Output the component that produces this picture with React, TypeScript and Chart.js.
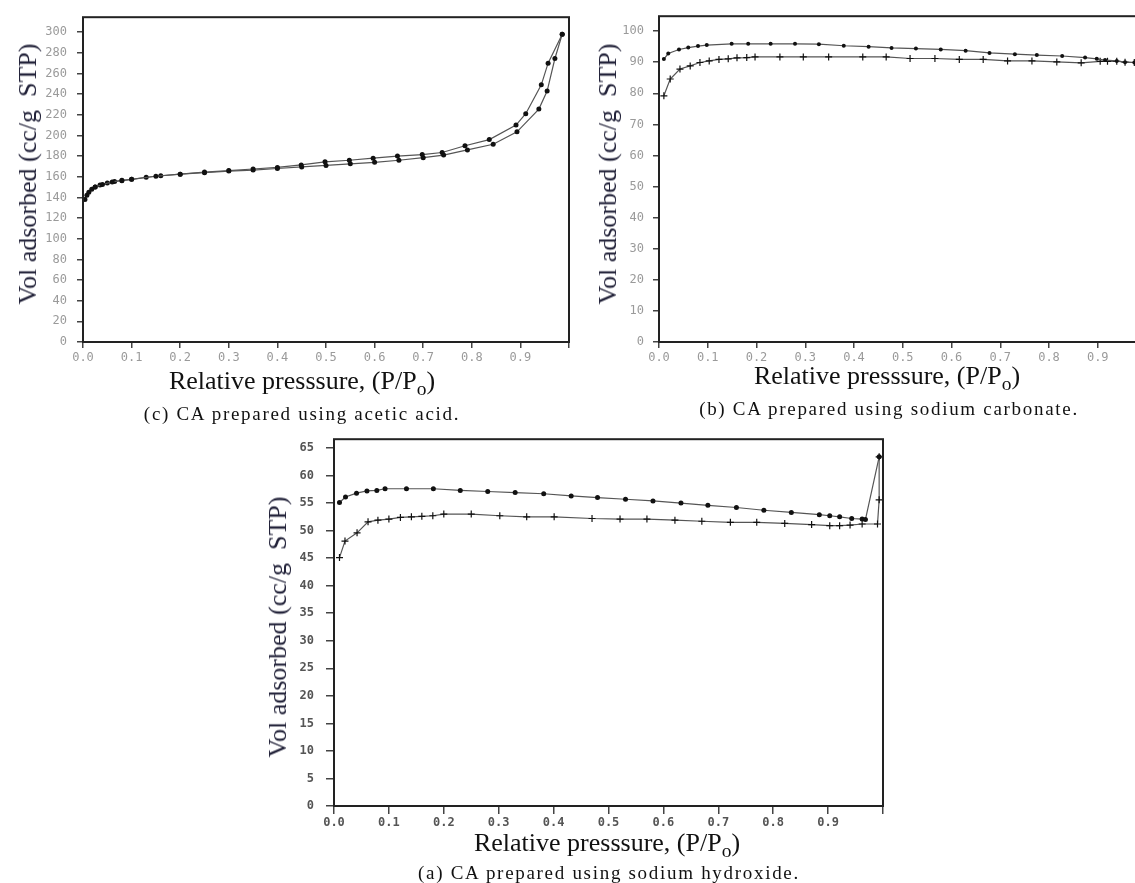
import React, { useEffect, useRef } from "react";
import { Chart, registerables } from "chart.js";
Chart.register(...registerables);

// ---------- shared tick labels ----------
const xTickLabels = ["0.0", "0.1", "0.2", "0.3", "0.4", "0.5", "0.6", "0.7", "0.8", "0.9", ""];

// ---------- (c) acetic acid ----------
const cAdsX = [0.004, 0.008, 0.012, 0.018, 0.025, 0.035, 0.05, 0.065, 0.08, 0.1, 0.13, 0.16, 0.2, 0.25, 0.3, 0.35, 0.4, 0.45, 0.5, 0.55, 0.6, 0.65, 0.7, 0.742, 0.791, 0.844, 0.893, 0.938, 0.955, 0.971, 0.986];
const cAdsY = [138, 142, 145, 148, 150, 152, 154, 155.5, 156.2, 157.5, 159.5, 161, 162.5, 164, 165.5, 166.5, 168, 169.5, 171, 172.5, 174, 176, 178.5, 181, 186, 191.5, 203.5, 225.5, 243, 274.5, 298];
const cDesX = [0.986, 0.957, 0.943, 0.911, 0.891, 0.836, 0.786, 0.739, 0.698, 0.647, 0.597, 0.548, 0.498, 0.449, 0.4, 0.35, 0.3, 0.25, 0.2, 0.15, 0.1, 0.08, 0.06, 0.04, 0.025];
const cDesY = [298, 270, 249, 221, 210, 196, 190, 183.5, 181.5, 180, 178, 176, 174.5, 171.5, 169, 167.5, 166, 164.5, 162.5, 160.5, 157.5, 156.5, 155, 152.5, 150];

// ---------- (b) sodium carbonate ----------
const bDesX = [0.01, 0.019, 0.041, 0.06, 0.08, 0.098, 0.149, 0.183, 0.229, 0.279, 0.328, 0.379, 0.43, 0.477, 0.527, 0.578, 0.629, 0.678, 0.73, 0.775, 0.827, 0.874, 0.898, 0.915, 0.939, 0.956, 0.975, 0.99];
const bDesY = [91, 92.8, 94.1, 94.7, 95.2, 95.5, 95.9, 95.9, 95.9, 95.9, 95.8, 95.3, 95, 94.6, 94.4, 94.1, 93.7, 93.0, 92.6, 92.3, 92.0, 91.5, 91.1, 90.7, 90.4, 90.0, 89.9, 89.8];
const bAdsX = [0.01, 0.023, 0.043, 0.064, 0.084, 0.103, 0.123, 0.142, 0.16, 0.18, 0.197, 0.248, 0.296, 0.348, 0.418, 0.466, 0.515, 0.566, 0.616, 0.665, 0.715, 0.765, 0.816, 0.866, 0.905, 0.92, 0.939, 0.956, 0.975, 0.99];
const bAdsY = [79.2, 84.6, 87.8, 88.8, 89.9, 90.4, 90.9, 91.1, 91.4, 91.5, 91.7, 91.7, 91.7, 91.7, 91.7, 91.7, 91.2, 91.2, 90.9, 90.9, 90.4, 90.4, 90.1, 89.8, 90.3, 90.3, 90.3, 90.0, 89.9, 89.8];

// ---------- (a) sodium hydroxide ----------
const aDesX = [0.01, 0.021, 0.041, 0.06, 0.078, 0.093, 0.132, 0.181, 0.23, 0.28, 0.33, 0.382, 0.432, 0.48, 0.531, 0.581, 0.632, 0.681, 0.733, 0.783, 0.833, 0.884, 0.903, 0.921, 0.943, 0.962, 0.968, 0.993];
const aDesY = [55.1, 56.1, 56.8, 57.2, 57.3, 57.6, 57.6, 57.6, 57.3, 57.1, 56.9, 56.7, 56.3, 56.0, 55.7, 55.4, 55.0, 54.6, 54.2, 53.7, 53.3, 52.9, 52.7, 52.5, 52.2, 52.1, 52.0, 63.4];
const aAdsX = [0.01, 0.02, 0.042, 0.062, 0.08, 0.1, 0.121, 0.141, 0.16, 0.18, 0.2, 0.25, 0.302, 0.351, 0.401, 0.47, 0.521, 0.57, 0.621, 0.67, 0.722, 0.77, 0.821, 0.87, 0.903, 0.921, 0.94, 0.962, 0.99, 0.993, 0.993];
const aAdsY = [45.1, 48.1, 49.6, 51.6, 51.9, 52.1, 52.4, 52.5, 52.6, 52.7, 53.0, 53.0, 52.7, 52.5, 52.5, 52.2, 52.1, 52.1, 51.9, 51.7, 51.5, 51.5, 51.3, 51.1, 50.9, 50.9, 51.0, 51.2, 51.2, 55.6, 63.4];

const Y_TITLE = "Vol adsorbed (cc/g  STP)";

const zip = (xs: number[], ys: number[]) => xs.map((x, i) => ({ x, y: ys[i] }));

const framePlugin = {
  id: "frame",
  afterDraw(chart: any) {
    const { ctx, chartArea: a } = chart;
    ctx.save();
    ctx.strokeStyle = "#222";
    ctx.lineWidth = 2;
    ctx.strokeRect(a.left, a.top, a.right - a.left, a.bottom - a.top);
    ctx.restore();
  },
};

type Props = {
  left: number; top: number; width: number; height: number;
  yAxisW: number; xAxisH: number; padTop: number; padRight: number;
  yMax: number; yStep: number;
  ads: { x: number; y: number }[]; des: { x: number; y: number }[];
  tickColor: string; tickWeight: string; tickLen: number; yPad: number; xPad: number; pointR: number;
  adsStyle: string;
};

function IsoChart(p: Props) {
  const ref = useRef<HTMLCanvasElement>(null);
  useEffect(() => {
    const font = { family: "'DejaVu Sans Mono', monospace", size: 12, weight: p.tickWeight as any };
    const grid = { drawOnChartArea: false, drawTicks: true, tickLength: p.tickLen, color: "#444", lineWidth: 1.5 };
    const chart = new Chart(ref.current!, {
      type: "scatter",
      data: {
        datasets: [
          {
            data: p.des, showLine: true, borderColor: "#555", borderWidth: 1.2,
            pointStyle: "circle", pointRadius: p.pointR, pointBackgroundColor: "#111", pointBorderColor: "#111", pointBorderWidth: 0,
          },
          {
            data: p.ads, showLine: true, borderColor: "#555", borderWidth: 1.2,
            pointStyle: p.adsStyle as any, pointRadius: p.adsStyle === "cross" ? 3.5 : p.pointR, pointBackgroundColor: "#111", pointBorderColor: "#111", pointBorderWidth: p.adsStyle === "cross" ? 1.2 : 0,
          },
        ],
      },
      options: {
        responsive: false,
        animation: false,
        layout: { padding: { top: p.padTop, right: p.padRight, left: 0, bottom: 0 } },
        plugins: { legend: { display: false }, tooltip: { enabled: false } },
        scales: {
          x: {
            type: "linear", min: 0, max: 1,
            ticks: {
              stepSize: 0.1, autoSkip: false, maxRotation: 0, padding: p.xPad, color: p.tickColor, font,
              callback: (v: any) => xTickLabels[Math.round(Number(v) * 10)] ?? "",
            },
            grid, border: { display: false },
            afterFit: (s: any) => { s.height = p.xAxisH; },
          },
          y: {
            type: "linear", min: 0, max: p.yMax,
            ticks: { stepSize: p.yStep, includeBounds: false, padding: p.yPad, color: p.tickColor, font, callback: (v: any) => String(v) },
            grid, border: { display: false },
            afterFit: (s: any) => { s.width = p.yAxisW; },
          },
        },
      },
      plugins: [framePlugin],
    });
    return () => chart.destroy();
  }, []);
  return (
    <canvas
      ref={ref}
      width={p.width}
      height={p.height}
      style={{ position: "absolute", left: p.left, top: p.top, width: p.width, height: p.height }}
    />
  );
}

const serif = "'Liberation Serif', 'Times New Roman', serif";

function YTitle({ cx, cy }: { cx: number; cy: number }) {
  return (
    <div style={{ position: "absolute", left: cx, top: cy, transform: "translate(-50%,-50%) rotate(-90deg)", whiteSpace: "pre", font: `26px ${serif}`, color: "#23233a", lineHeight: 1 }}>
      {Y_TITLE}
    </div>
  );
}
function XTitle({ cx, cy }: { cx: number; cy: number }) {
  return (
    <div style={{ position: "absolute", left: cx, top: cy, transform: "translate(-50%,-50%)", whiteSpace: "pre", font: `26px ${serif}`, color: "#111", lineHeight: 1 }}>
      Relative presssure, (P/P<sub style={{ fontSize: "0.75em" }}>o</sub>)
    </div>
  );
}
function Caption({ cx, cy, text }: { cx: number; cy: number; text: string }) {
  return (
    <div style={{ position: "absolute", left: cx, top: cy, transform: "translate(-50%,-50%)", whiteSpace: "pre", font: `19px ${serif}`, letterSpacing: "1.7px", color: "#111", lineHeight: 1 }}>
      {text}
    </div>
  );
}

export default function App() {
  return (
    <div style={{ position: "relative", width: 1135, height: 883, overflow: "hidden", background: "#fff" }}>
      <style>{`body{margin:0}`}</style>
      <IsoChart left={0} top={0} width={580} height={366} yAxisW={83} xAxisH={24} padTop={16} padRight={11}
        yMax={314.5} yStep={20} ads={zip(cAdsX, cAdsY)} des={zip(cDesX, cDesY)}
        tickColor="#9a9a9a" tickWeight="normal" tickLen={6} yPad={10} xPad={3} pointR={2.5} adsStyle="circle" />
      <IsoChart left={580} top={0} width={596} height={366} yAxisW={79} xAxisH={24} padTop={16} padRight={29.5}
        yMax={104.8} yStep={10} ads={zip(bAdsX, bAdsY)} des={zip(bDesX, bDesY)}
        tickColor="#9a9a9a" tickWeight="normal" tickLen={6} yPad={9} xPad={3} pointR={2} adsStyle="cross" />
      <IsoChart left={240} top={420} width={660} height={830 - 420} yAxisW={94} xAxisH={24} padTop={15} padRight={17}
        yMax={66.6} yStep={5} ads={zip(aAdsX, aAdsY)} des={zip(aDesX, aDesY)}
        tickColor="#555" tickWeight="bold" tickLen={8} yPad={12} xPad={2} pointR={2.5} adsStyle="cross" />
      <YTitle cx={28} cy={174} />
      <YTitle cx={608} cy={174} />
      <YTitle cx={278} cy={627} />
      <XTitle cx={302} cy={383} />
      <XTitle cx={887} cy={378} />
      <XTitle cx={607} cy={845} />
      <Caption cx={302} cy={413} text="(c) CA prepared using acetic acid." />
      <Caption cx={889} cy={408} text="(b) CA prepared using sodium carbonate." />
      <Caption cx={609} cy={872} text="(a) CA prepared using sodium hydroxide." />
    </div>
  );
}
